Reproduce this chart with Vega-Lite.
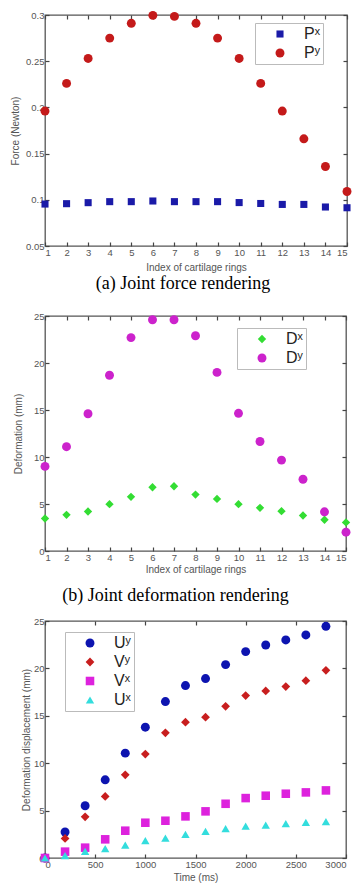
{
  "$schema": "https://vega.github.io/schema/vega-lite/v6.json",
  "padding": {"left": 9, "top": 9, "right": 0, "bottom": 0},
  "bounds": "flush",
  "spacing": 70,
  "background": "white",
  "resolve": {"scale": {"color": "independent", "shape": "independent", "size": "independent"}},
  "config": {
    "view": {"stroke": "#555", "strokeWidth": 1.3},
    "axis": {"grid": false, "domain": false, "tickColor": "#444", "tickSize": -4, "tickWidth": 1.2, "labelPadding": 5, "labelFont": "Liberation Sans", "labelFontSize": 9.5, "labelColor": "#555", "titleFont": "Liberation Sans", "titleFontSize": 10, "titleFontWeight": "normal", "titleColor": "#555"},
    "legend": {"strokeColor": "#bbb", "fillColor": "white", "padding": 3, "labelFont": "Liberation Sans", "labelFontSize": 16, "labelColor": "#222", "symbolSize": 45, "symbolStrokeWidth": 0, "rowPadding": 3, "labelOffset": 16, "symbolOffset": 14},
    "title": {"font": "Liberation Serif", "fontSize": 18, "fontWeight": "normal", "color": "black", "orient": "bottom"}
  },
  "vconcat": [
    {
      "width": 302, "height": 231,
      "title": {"text": "(a) Joint force rendering", "dx": -13, "offset": 2},
      "data": {"values": [
        {"i": 1, "s": "Pˣ", "v": 0.0954}, {"i": 2, "s": "Pˣ", "v": 0.0958}, {"i": 3, "s": "Pˣ", "v": 0.0969}, {"i": 4, "s": "Pˣ", "v": 0.098}, {"i": 5, "s": "Pˣ", "v": 0.098},
        {"i": 6, "s": "Pˣ", "v": 0.0987}, {"i": 7, "s": "Pˣ", "v": 0.098}, {"i": 8, "s": "Pˣ", "v": 0.098}, {"i": 9, "s": "Pˣ", "v": 0.098}, {"i": 10, "s": "Pˣ", "v": 0.097},
        {"i": 11, "s": "Pˣ", "v": 0.096}, {"i": 12, "s": "Pˣ", "v": 0.095}, {"i": 13, "s": "Pˣ", "v": 0.095}, {"i": 14, "s": "Pˣ", "v": 0.0922}, {"i": 15, "s": "Pˣ", "v": 0.0914},
        {"i": 1, "s": "Pʸ", "v": 0.196}, {"i": 2, "s": "Pʸ", "v": 0.226}, {"i": 3, "s": "Pʸ", "v": 0.253}, {"i": 4, "s": "Pʸ", "v": 0.275}, {"i": 5, "s": "Pʸ", "v": 0.291},
        {"i": 6, "s": "Pʸ", "v": 0.2996}, {"i": 7, "s": "Pʸ", "v": 0.2985}, {"i": 8, "s": "Pʸ", "v": 0.291}, {"i": 9, "s": "Pʸ", "v": 0.275}, {"i": 10, "s": "Pʸ", "v": 0.253},
        {"i": 11, "s": "Pʸ", "v": 0.226}, {"i": 12, "s": "Pʸ", "v": 0.196}, {"i": 13, "s": "Pʸ", "v": 0.166}, {"i": 14, "s": "Pʸ", "v": 0.136}, {"i": 15, "s": "Pʸ", "v": 0.109}
      ]},
      "resolve": {"axis": {"x": "independent", "y": "independent"}},
      "layer": [
        {
          "mark": {"type": "point", "filled": true, "opacity": 1, "clip": false},
          "encoding": {
            "x": {"field": "i", "type": "quantitative", "scale": {"domain": [1, 15], "nice": false, "zero": false}, "axis": {"values": [1,2,3,4,5,6,7,8,9,10,11,12,13,14,15], "title": "Index of cartilage rings", "titlePadding": 6}},
            "y": {"field": "v", "type": "quantitative", "scale": {"domain": [0.05, 0.3], "nice": false, "zero": false}, "axis": {"values": [0.05, 0.1, 0.15, 0.2, 0.25, 0.3], "format": ".2~f", "title": "Force (Newton)", "titlePadding": 5}},
            "color": {"field": "s", "type": "nominal", "scale": {"domain": ["Pˣ", "Pʸ"], "range": ["#1a1aa8", "#c41a1a"]}, "legend": {"title": null, "orient": "none", "legendX": 210, "legendY": 8}},
            "shape": {"field": "s", "type": "nominal", "scale": {"domain": ["Pˣ", "Pʸ"], "range": ["square", "circle"]}, "legend": {"title": null, "orient": "none", "legendX": 210, "legendY": 8}},
            "size": {"field": "s", "type": "nominal", "scale": {"domain": ["Pˣ", "Pʸ"], "range": [50, 80]}, "legend": null}
          }
        },
        {
          "mark": {"type": "point", "opacity": 0},
          "encoding": {
            "x": {"field": "i", "type": "quantitative", "axis": {"orient": "top", "labels": false, "title": null, "values": [1,2,3,4,5,6,7,8,9,10,11,12,13,14,15]}},
            "y": {"field": "v", "type": "quantitative", "axis": {"orient": "right", "labels": false, "title": null, "values": [0.05, 0.1, 0.15, 0.2, 0.25, 0.3]}}
          }
        }
      ]
    },
    {
      "width": 301, "height": 235,
      "title": {"text": "(b) Joint deformation rendering", "dx": -20, "offset": 12},
      "data": {"values": [
        {"i": 1, "s": "Dˣ", "v": 3.46}, {"i": 2, "s": "Dˣ", "v": 3.85}, {"i": 3, "s": "Dˣ", "v": 4.2}, {"i": 4, "s": "Dˣ", "v": 4.98}, {"i": 5, "s": "Dˣ", "v": 5.76},
        {"i": 6, "s": "Dˣ", "v": 6.78}, {"i": 7, "s": "Dˣ", "v": 6.89}, {"i": 8, "s": "Dˣ", "v": 6.0}, {"i": 9, "s": "Dˣ", "v": 5.54}, {"i": 10, "s": "Dˣ", "v": 4.98},
        {"i": 11, "s": "Dˣ", "v": 4.59}, {"i": 12, "s": "Dˣ", "v": 4.24}, {"i": 13, "s": "Dˣ", "v": 3.78}, {"i": 14, "s": "Dˣ", "v": 3.32}, {"i": 15, "s": "Dˣ", "v": 3.04},
        {"i": 1, "s": "Dʸ", "v": 9.0}, {"i": 2, "s": "Dʸ", "v": 11.1}, {"i": 3, "s": "Dʸ", "v": 14.6}, {"i": 4, "s": "Dʸ", "v": 18.7}, {"i": 5, "s": "Dʸ", "v": 22.7},
        {"i": 6, "s": "Dʸ", "v": 24.6}, {"i": 7, "s": "Dʸ", "v": 24.6}, {"i": 8, "s": "Dʸ", "v": 22.9}, {"i": 9, "s": "Dʸ", "v": 19.0}, {"i": 10, "s": "Dʸ", "v": 14.65},
        {"i": 11, "s": "Dʸ", "v": 11.65}, {"i": 12, "s": "Dʸ", "v": 9.67}, {"i": 13, "s": "Dʸ", "v": 7.63}, {"i": 14, "s": "Dʸ", "v": 4.17}, {"i": 15, "s": "Dʸ", "v": 2.0}
      ]},
      "resolve": {"axis": {"x": "independent", "y": "independent"}},
      "layer": [
        {
          "mark": {"type": "point", "filled": true, "opacity": 1, "clip": false},
          "encoding": {
            "x": {"field": "i", "type": "quantitative", "scale": {"domain": [1, 15], "nice": false, "zero": false}, "axis": {"values": [1,2,3,4,5,6,7,8,9,10,11,12,13,14,15], "title": "Index of cartilage rings", "titlePadding": 3}},
            "y": {"field": "v", "type": "quantitative", "scale": {"domain": [0, 25], "nice": false}, "axis": {"values": [0, 5, 10, 15, 20, 25], "title": "Deformation (mm)", "titlePadding": 10}},
            "color": {"field": "s", "type": "nominal", "scale": {"domain": ["Dˣ", "Dʸ"], "range": ["#33dd33", "#cc22cc"]}, "legend": {"title": null, "orient": "none", "legendX": 192, "legendY": 12}},
            "shape": {"field": "s", "type": "nominal", "scale": {"domain": ["Dˣ", "Dʸ"], "range": ["diamond", "circle"]}, "legend": {"title": null, "orient": "none", "legendX": 192, "legendY": 12}},
            "size": {"field": "s", "type": "nominal", "scale": {"domain": ["Dˣ", "Dʸ"], "range": [70, 80]}, "legend": null}
          }
        },
        {
          "mark": {"type": "point", "opacity": 0},
          "encoding": {
            "x": {"field": "i", "type": "quantitative", "axis": {"orient": "top", "labels": false, "title": null, "values": [1,2,3,4,5,6,7,8,9,10,11,12,13,14,15]}},
            "y": {"field": "v", "type": "quantitative", "axis": {"orient": "right", "labels": false, "title": null, "values": [0, 5, 10, 15, 20, 25]}}
          }
        }
      ]
    },
    {
      "width": 301, "height": 237,
      "data": {"values": [
        {"t": 0, "s": "Uʸ", "v": 0}, {"t": 200, "s": "Uʸ", "v": 2.74}, {"t": 400, "s": "Uʸ", "v": 5.51}, {"t": 600, "s": "Uʸ", "v": 8.25}, {"t": 800, "s": "Uʸ", "v": 11.06},
        {"t": 1000, "s": "Uʸ", "v": 13.8}, {"t": 1200, "s": "Uʸ", "v": 16.5}, {"t": 1400, "s": "Uʸ", "v": 18.19}, {"t": 1600, "s": "Uʸ", "v": 18.93}, {"t": 1800, "s": "Uʸ", "v": 20.4},
        {"t": 2000, "s": "Uʸ", "v": 21.77}, {"t": 2200, "s": "Uʸ", "v": 22.47}, {"t": 2400, "s": "Uʸ", "v": 23.0}, {"t": 2600, "s": "Uʸ", "v": 23.53}, {"t": 2800, "s": "Uʸ", "v": 24.44},
        {"t": 0, "s": "Vʸ", "v": 0}, {"t": 200, "s": "Vʸ", "v": 2.07}, {"t": 400, "s": "Vʸ", "v": 4.35}, {"t": 600, "s": "Vʸ", "v": 6.5}, {"t": 800, "s": "Vʸ", "v": 8.78},
        {"t": 1000, "s": "Vʸ", "v": 10.96}, {"t": 1200, "s": "Vʸ", "v": 13.2}, {"t": 1400, "s": "Vʸ", "v": 14.33}, {"t": 1600, "s": "Vʸ", "v": 14.85}, {"t": 1800, "s": "Vʸ", "v": 16.0},
        {"t": 2000, "s": "Vʸ", "v": 17.13}, {"t": 2200, "s": "Vʸ", "v": 17.62}, {"t": 2400, "s": "Vʸ", "v": 18.08}, {"t": 2600, "s": "Vʸ", "v": 18.71}, {"t": 2800, "s": "Vʸ", "v": 19.8},
        {"t": 0, "s": "Vˣ", "v": 0}, {"t": 200, "s": "Vˣ", "v": 0.67}, {"t": 400, "s": "Vˣ", "v": 1.09}, {"t": 600, "s": "Vˣ", "v": 1.97}, {"t": 800, "s": "Vˣ", "v": 2.88},
        {"t": 1000, "s": "Vˣ", "v": 3.72}, {"t": 1200, "s": "Vˣ", "v": 3.93}, {"t": 1400, "s": "Vˣ", "v": 4.39}, {"t": 1600, "s": "Vˣ", "v": 4.92}, {"t": 1800, "s": "Vˣ", "v": 5.72},
        {"t": 2000, "s": "Vˣ", "v": 6.32}, {"t": 2200, "s": "Vˣ", "v": 6.57}, {"t": 2400, "s": "Vˣ", "v": 6.78}, {"t": 2600, "s": "Vˣ", "v": 6.92}, {"t": 2800, "s": "Vˣ", "v": 7.13},
        {"t": 0, "s": "Uˣ", "v": 0}, {"t": 200, "s": "Uˣ", "v": 0.25}, {"t": 400, "s": "Uˣ", "v": 0.7}, {"t": 600, "s": "Uˣ", "v": 0.98}, {"t": 800, "s": "Uˣ", "v": 1.37},
        {"t": 1000, "s": "Uˣ", "v": 1.83}, {"t": 1200, "s": "Uˣ", "v": 2.1}, {"t": 1400, "s": "Uˣ", "v": 2.5}, {"t": 1600, "s": "Uˣ", "v": 2.8}, {"t": 1800, "s": "Uˣ", "v": 3.1},
        {"t": 2000, "s": "Uˣ", "v": 3.37}, {"t": 2200, "s": "Uˣ", "v": 3.48}, {"t": 2400, "s": "Uˣ", "v": 3.62}, {"t": 2600, "s": "Uˣ", "v": 3.76}, {"t": 2800, "s": "Uˣ", "v": 3.83}
      ]},
      "resolve": {"axis": {"x": "independent", "y": "independent"}},
      "layer": [
        {
          "mark": {"type": "point", "filled": true, "opacity": 1, "clip": false},
          "encoding": {
            "x": {"field": "t", "type": "quantitative", "scale": {"domain": [0, 3000], "nice": false}, "axis": {"values": [0, 500, 1000, 1500, 2000, 2500, 3000], "format": "d", "title": "Time (ms)", "titlePadding": 4}},
            "y": {"field": "v", "type": "quantitative", "scale": {"domain": [0, 25], "nice": false}, "axis": {"values": [0, 5, 10, 15, 20, 25], "title": "Deformation displacement (mm)", "titlePadding": 2}},
            "color": {"field": "s", "type": "nominal", "scale": {"domain": ["Uʸ", "Vʸ", "Vˣ", "Uˣ"], "range": ["#0d14b0", "#c81e1e", "#dd22dd", "#33dddd"]}, "legend": {"title": null, "orient": "none", "legendX": 20, "legendY": 11}},
            "shape": {"field": "s", "type": "nominal", "scale": {"domain": ["Uʸ", "Vʸ", "Vˣ", "Uˣ"], "range": ["circle", "diamond", "square", "triangle-up"]}, "legend": {"title": null, "orient": "none", "legendX": 20, "legendY": 11}},
            "size": {"field": "s", "type": "nominal", "scale": {"domain": ["Uʸ", "Vʸ", "Vˣ", "Uˣ"], "range": [80, 70, 50, 80]}, "legend": null}
          }
        },
        {
          "mark": {"type": "point", "opacity": 0},
          "encoding": {
            "x": {"field": "t", "type": "quantitative", "axis": {"orient": "top", "labels": false, "title": null, "values": [0, 500, 1000, 1500, 2000, 2500, 3000]}},
            "y": {"field": "v", "type": "quantitative", "axis": {"orient": "right", "labels": false, "title": null, "values": [0, 5, 10, 15, 20, 25]}}
          }
        }
      ]
    }
  ]
}
